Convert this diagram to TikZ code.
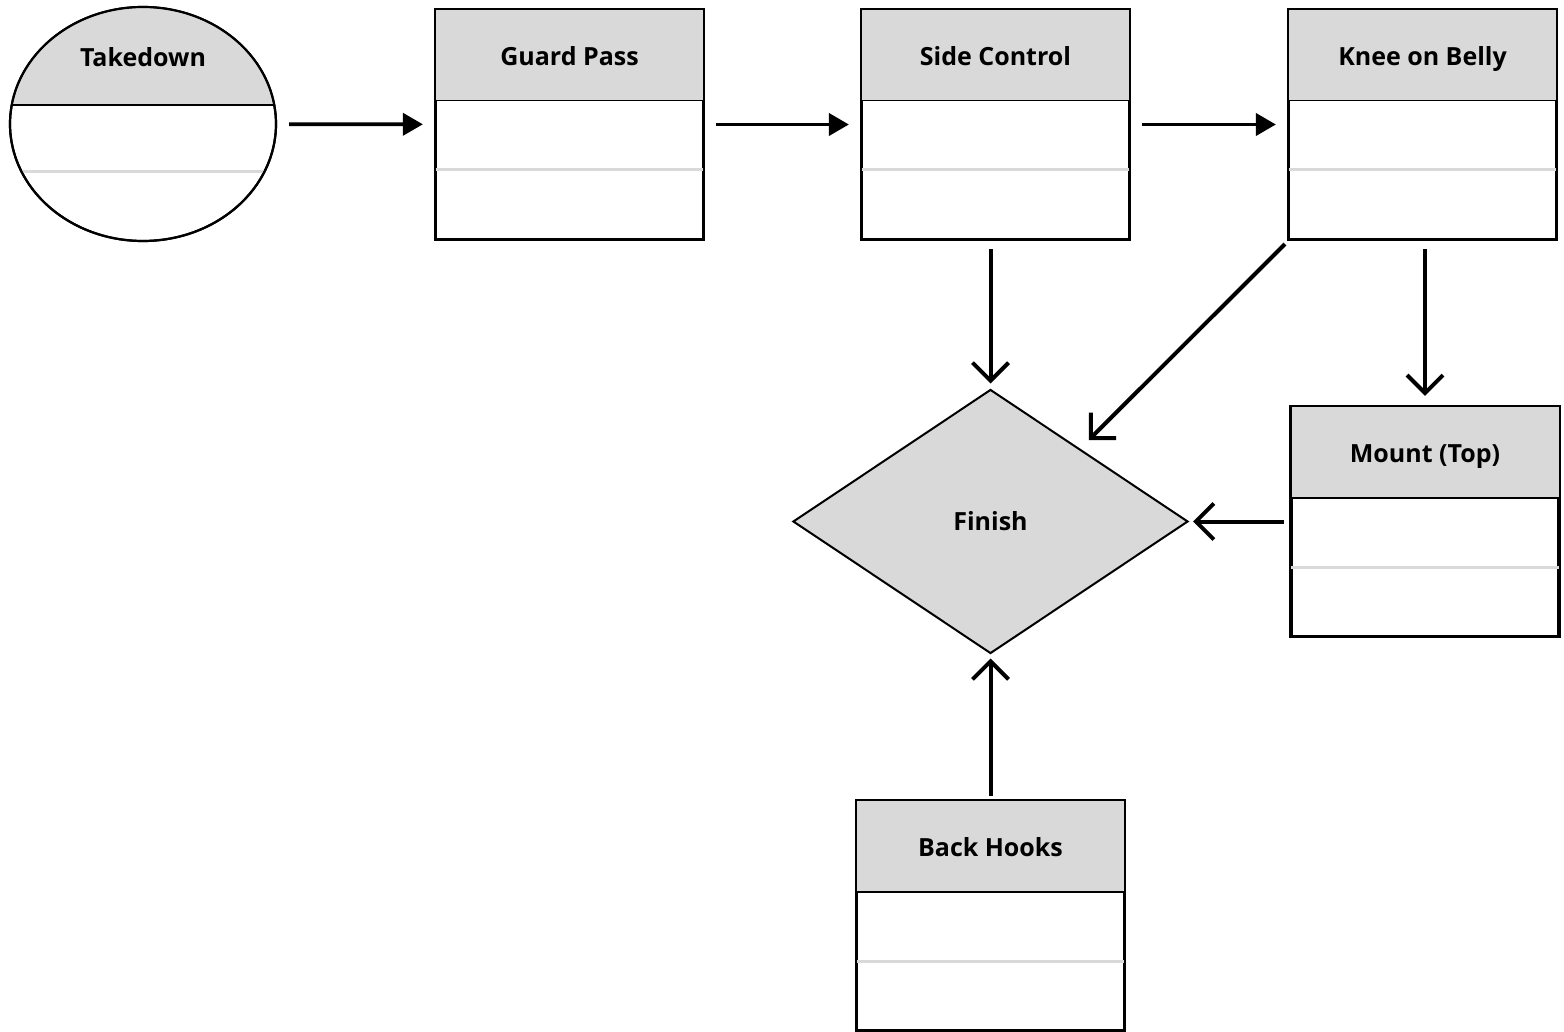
\documentclass[tikz,border=0pt]{standalone}
\usepackage{fontspec}
\setmainfont{Open Sans}
\usetikzlibrary{arrows.meta,calc,shapes.geometric}
\definecolor{headgray}{RGB}{217,217,217}
\definecolor{rulegray}{RGB}{217,217,217}

\begin{document}
\begin{tikzpicture}[x=0.5pt,y=-0.5pt,
  box/.style={draw,line width=1.1pt,fill=white,minimum width=133.5pt,minimum height=114.5pt,inner sep=0},
  title/.style={font=\bfseries\fontsize{12.5}{15}\selectfont,inner sep=0},
  flow/.style={line width=1.9pt,-{Triangle[length=10pt,width=11pt]},shorten <=6pt,shorten >=6pt},
  link/.style={line width=2pt,-{Straight Barb[length=9pt,width=18pt,line width=2pt]}}]
\useasboundingbox (0,0) rectangle (1564,1032);

% start state
\node[ellipse,draw,line width=1.1pt,fill=white,minimum width=133pt,minimum height=117pt,inner sep=0] (take) at (143,124) {};
\begin{scope}
\clip (take.center) ellipse [x radius=132,y radius=116];
\fill[headgray] (0,0) rectangle (300,105);
\draw[line width=0.6pt] (0,105) -- (300,105);
\draw[rulegray,line width=1.5pt] (0,172) -- (300,172);
\end{scope}
\draw[line width=1.1pt] (take.center) ellipse [x radius=133,y radius=117];
\node[title,anchor=base] at (143,67) {Takedown};

% positions
\foreach \nm/\px/\py/\txt in {guard/569.5/124.5/Guard Pass, side/995.5/124.5/Side Control,
    knee/1422.5/124.5/Knee on Belly, mount/1425/521.5/Mount (Top), back/990.5/915.5/Back Hooks}{
  \node[box] (\nm) at (\px,\py) {};
  \draw[fill=headgray,line width=0.6pt] (\nm.north west) rectangle ($(\nm.north east)+(0,92)$);
  \draw[line width=1.1pt] (\nm.north west) rectangle (\nm.south east);
  \draw[rulegray,line width=1.5pt] ($(\nm.west)+(1,45.5)$) -- ($(\nm.east)+(-1,45.5)$);
  \node[title,anchor=base] at ($(\nm.north)+(0,57)$) {\txt};
}

% goal
\node[diamond,draw,line width=1pt,fill=headgray,minimum width=197.5pt,minimum height=132pt,inner sep=0,title] (fin) at (990.5,521.5) {Finish};

% connectors
\draw[flow] (take) -- (guard);
\draw[flow] (guard) -- (side);
\draw[flow] (side) -- (knee);
\draw[link,shorten <=4.5pt,shorten >=2.5pt] (side.south -| fin.north) -- (fin.north);
\draw[link] ($(knee.south west)+(-3,4)$) -- ($(fin.north east)+(-1,-15)$);
\draw[link,shorten <=4.5pt,shorten >=5pt] (knee.south -| mount.north) -- (mount.north);
\draw[link,shorten <=3pt,shorten >=2pt] (mount.west) -- (fin.east);
\draw[link,shorten <=2pt,shorten >=2pt] (back.north -| fin.south) -- (fin.south);
\end{tikzpicture}
\end{document}
